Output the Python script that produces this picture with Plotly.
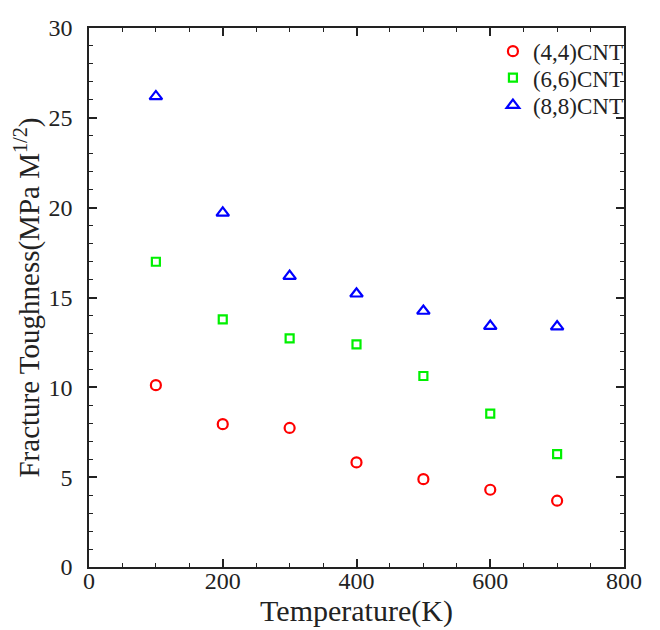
import plotly.graph_objects as go

temperature = [100, 200, 300, 400, 500, 600, 700]
cnt44 = [10.12, 7.95, 7.74, 5.82, 4.89, 4.30, 3.69]
cnt66 = [16.99, 13.78, 12.73, 12.39, 10.63, 8.54, 6.28]
cnt88 = [26.19, 19.71, 16.19, 15.21, 14.25, 13.41, 13.38]
names = ["(4,4)CNT", "(6,6)CNT", "(8,8)CNT"]

FONT = "Liberation Serif, Times New Roman, serif"
INK = "#222"

fig = go.Figure()
fig.add_trace(go.Scatter(x=temperature, y=cnt44, mode="markers", name=names[0], legend="legend",
                         marker=dict(symbol="circle-open", size=10, color="#ff0000",
                                     line=dict(width=2.2, color="#ff0000"))))
fig.add_trace(go.Scatter(x=temperature, y=cnt66, mode="markers", name=names[1], legend="legend2",
                         marker=dict(symbol="square-open", size=8, color="#00f000",
                                     line=dict(width=2.2, color="#00f000"))))
fig.add_trace(go.Scatter(x=temperature, y=cnt88, mode="markers", name=names[2], legend="legend3",
                         marker=dict(symbol="triangle-up-open", size=11, color="#0000ff",
                                     line=dict(width=2.2, color="#0000ff"))))

axis_common = dict(
    showline=True, linecolor=INK, linewidth=1.5, mirror="allticks",
    ticks="inside", ticklen=8, tickwidth=1.5, tickcolor=INK,
    showgrid=False, zeroline=False, automargin=False,
    tickfont=dict(family=FONT, size=24, color=INK),
)

fig.update_xaxes(range=[0, 800], dtick=200, tick0=0, ticklabelstandoff=-9,
                 minor=dict(ticks="inside", ticklen=4, dtick=50, tickwidth=1.2, tickcolor=INK),
                 title=dict(text="Temperature(K)", font=dict(family=FONT, size=30, color=INK), standoff=0),
                 **axis_common)
fig.update_yaxes(range=[0, 30], dtick=5, tick0=0, ticklabelstandoff=10,
                 minor=dict(ticks="inside", ticklen=4, dtick=1, tickwidth=1.2, tickcolor=INK),
                 title=dict(text="Fracture Toughness(MPa M<sup>1/2</sup>)",
                            font=dict(family=FONT, size=29, color=INK), standoff=0),
                 **axis_common)

leg = dict(xanchor="left", yanchor="middle", x=0.755,
           font=dict(family=FONT, size=23, color=INK),
           bgcolor="rgba(0,0,0,0)", borderwidth=0, itemwidth=30)

fig.update_layout(
    width=660, height=630,
    margin=dict(l=81, r=44, t=20, b=71),
    paper_bgcolor="white", plot_bgcolor="white",
    showlegend=True,
    legend=dict(leg, y=0.957),
    legend2=dict(leg, y=0.908),
    legend3=dict(leg, y=0.857),
)

fig.write_html("out.html")
